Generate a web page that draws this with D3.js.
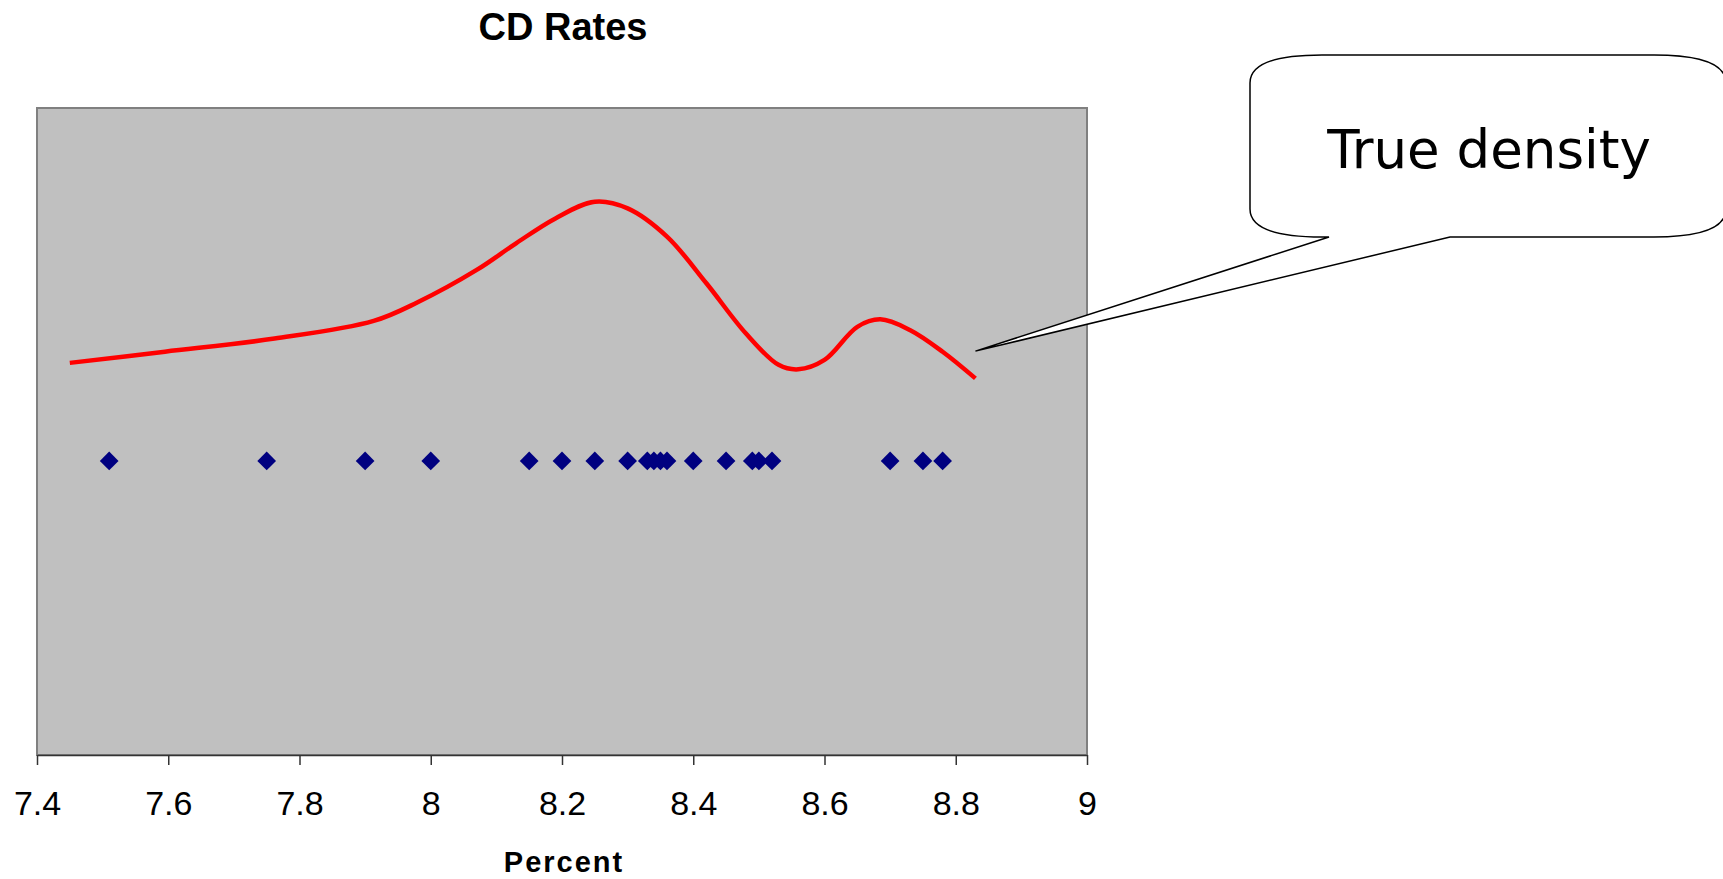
<!DOCTYPE html>
<html>
<head>
<meta charset="utf-8">
<script src="https://cdn.jsdelivr.net/npm/d3@7"></script>
<style>
  body { margin: 0; background: #ffffff; }
  #chart { width: 1723px; height: 879px; }
  .axis text { font-family: "Liberation Sans", Arial, sans-serif; font-size: 34px; fill: #000; }
  .axis path, .axis line { stroke: #333; stroke-width: 1.5; }
</style>
</head>
<body>
<div id="chart"></div>
<script>
// CD rates (percent) shown as points along the x axis
const rates = [7.51, 7.75, 7.90, 8.00, 8.15, 8.20, 8.25, 8.30, 8.33, 8.34,
               8.35, 8.36, 8.40, 8.45, 8.49, 8.50, 8.52, 8.70, 8.75, 8.78];

// "true density" curve
const densityX = [7.45, 7.595, 7.762, 7.913, 7.98, 8.07, 8.13, 8.19, 8.25, 8.30,
                  8.36, 8.42, 8.48, 8.53, 8.56, 8.60, 8.65, 8.685, 8.73, 8.78, 8.83];
const densityY = [0.50, 0.557, 0.624, 0.714, 0.809, 0.974, 1.110, 1.237, 1.322, 1.288,
                  1.144, 0.906, 0.651, 0.490, 0.467, 0.515, 0.684, 0.722, 0.668, 0.557, 0.421];

const tickValues = [7.4, 7.6, 7.8, 8.0, 8.2, 8.4, 8.6, 8.8, 9.0];
const tickLabels = ["7.4", "7.6", "7.8", "8", "8.2", "8.4", "8.6", "8.8", "9"];

const chartTitle = "CD Rates";
const xTitle = "Percent";
const calloutText = "True density";

const width = 1723;
const height = 879;
const plot = {left: 37, right: 1087, top: 108, bottom: 755};

const svg = d3.select("#chart")
    .append("svg")
    .attr("width", width)
    .attr("height", height);

const xScale = d3.scaleLinear()
    .domain([7.4, 9])
    .range([plot.left, plot.right]);

// no y axis is shown; points sit at 0, density above it
const yScale = d3.scaleLinear()
    .domain([-1.5, 1.8])
    .range([plot.bottom, plot.top]);

// plot area
svg.append("rect")
    .attr("x", plot.left)
    .attr("y", plot.top)
    .attr("width", plot.right - plot.left)
    .attr("height", plot.bottom - plot.top)
    .attr("fill", "#C0C0C0")
    .attr("stroke", "#808080")
    .attr("stroke-width", 2);

// density line
const curve = densityX.map(function(d, i) { return {x: d, y: densityY[i]}; });

const line = d3.line()
    .x(function(d) { return xScale(d.x); })
    .y(function(d) { return yScale(d.y); })
    .curve(d3.curveCatmullRom.alpha(0.5));

svg.append("path")
    .datum(curve)
    .attr("d", line)
    .attr("fill", "none")
    .attr("stroke", "#FF0000")
    .attr("stroke-width", 4.5)
    .attr("stroke-linejoin", "round");

// data points as diamonds
const diamond = d3.symbol().type(d3.symbolSquare).size(175);

svg.selectAll(".pt")
    .data(rates)
    .join("path")
    .attr("class", "pt")
    .attr("d", diamond)
    .attr("transform", function(d) { return `translate(${xScale(d)},${yScale(0)}) rotate(45)`; })
    .attr("fill", "#000080");

// x axis
const xAxis = svg.append("g")
    .attr("class", "axis")
    .attr("transform", `translate(0,${plot.bottom})`)
    .call(d3.axisBottom(xScale)
        .tickValues(tickValues)
        .tickFormat(function(d, i) { return tickLabels[i]; })
        .tickSize(10)
        .tickSizeOuter(0)
        .tickPadding(26));

// titles
svg.append("text")
    .attr("x", 563)
    .attr("y", 40)
    .attr("text-anchor", "middle")
    .style("font-family", "'Liberation Sans', Arial, sans-serif")
    .style("font-weight", "bold")
    .style("font-size", "38px")
    .text(chartTitle);

svg.append("text")
    .attr("x", 564)
    .attr("y", 872)
    .attr("text-anchor", "middle")
    .style("font-family", "'Liberation Sans', Arial, sans-serif")
    .style("font-weight", "bold")
    .style("font-size", "29px")
    .style("letter-spacing", "2px")
    .text(xTitle);

// callout pointing at the end of the density line
const tipX = xScale(8.83);
const tipY = yScale(0.56);
const box = {x0: 1250, y0: 55, x1: 1726, y1: 237, rx: 72, ry: 28};

const callout = d3.path();
callout.moveTo(box.x0 + box.rx, box.y0);
callout.lineTo(box.x1 - box.rx, box.y0);
callout.quadraticCurveTo(box.x1, box.y0, box.x1, box.y0 + box.ry);
callout.lineTo(box.x1, box.y1 - box.ry);
callout.quadraticCurveTo(box.x1, box.y1, box.x1 - box.rx, box.y1);
callout.lineTo(1450, box.y1);
callout.lineTo(tipX, tipY);
callout.lineTo(1329, box.y1);
callout.lineTo(box.x0 + box.rx, box.y1);
callout.quadraticCurveTo(box.x0, box.y1, box.x0, box.y1 - box.ry);
callout.lineTo(box.x0, box.y0 + box.ry);
callout.quadraticCurveTo(box.x0, box.y0, box.x0 + box.rx, box.y0);
callout.closePath();

svg.append("path")
    .attr("d", callout.toString())
    .attr("fill", "#ffffff")
    .attr("stroke", "#000000")
    .attr("stroke-width", 1.5);

svg.append("text")
    .attr("x", 1489)
    .attr("y", 168)
    .attr("text-anchor", "middle")
    .style("font-family", "'DejaVu Sans', Verdana, sans-serif")
    .style("font-size", "53px")
    .text(calloutText);
</script>
</body>
</html>
